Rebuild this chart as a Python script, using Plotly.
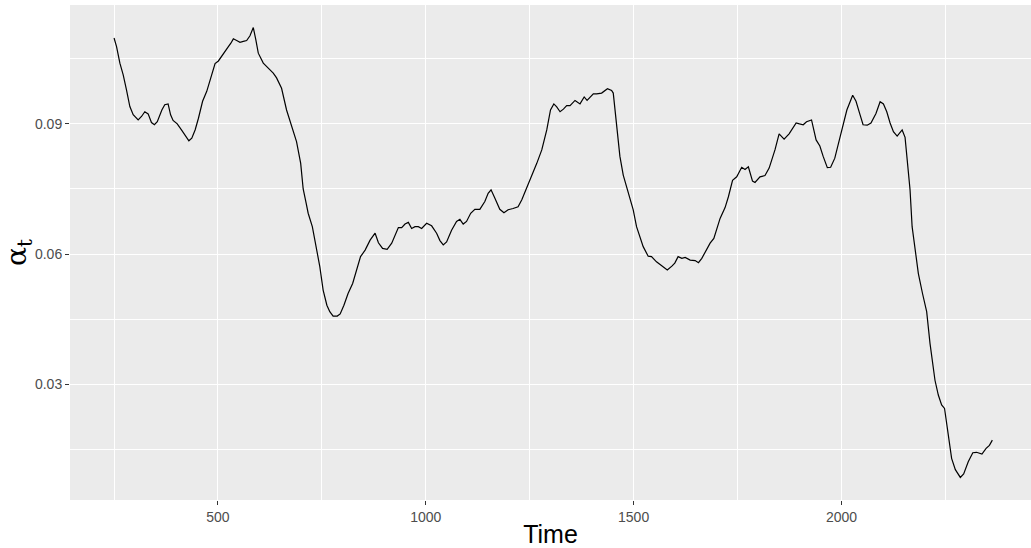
import plotly.graph_objects as go

time = [250, 256, 264, 272, 280, 288, 296, 308, 316, 324, 332, 340, 347, 354, 365, 372, 380, 386, 392, 402,
        413, 423, 430, 437, 445, 453, 463, 473, 483, 493, 501, 509, 517, 525, 531, 537, 545, 553, 561, 569,
        577, 585, 591, 597, 609, 621, 633, 641, 653, 665, 677, 689, 699, 705, 712, 717, 727, 736, 745, 753,
        762, 769, 777, 787, 794, 803, 813, 824, 834, 843, 854, 866, 878, 886, 896, 907, 918, 926, 934, 942,
        950, 958, 966, 974, 982, 990, 1002, 1014, 1026, 1034, 1042, 1050, 1062, 1074, 1082, 1090, 1098, 1108, 1118, 1130,
        1142, 1150, 1157, 1166, 1178, 1188, 1198, 1210, 1222, 1231, 1243, 1255, 1267, 1279, 1291, 1300, 1308, 1315, 1323, 1331,
        1339, 1347, 1359, 1371, 1381, 1388, 1403, 1411, 1423, 1437, 1447, 1451, 1459, 1467, 1475, 1483, 1491, 1499, 1507, 1523,
        1535, 1543, 1555, 1571, 1581, 1592, 1599, 1607, 1616, 1624, 1636, 1648, 1656, 1664, 1672, 1684, 1693, 1708, 1720, 1728,
        1738, 1748, 1760, 1768, 1776, 1786, 1792, 1804, 1816, 1826, 1836, 1840, 1850, 1862, 1874, 1891, 1899, 1908, 1916, 1928,
        1939, 1948, 1956, 1966, 1974, 1984, 1996, 2013, 2027, 2035, 2045, 2052, 2062, 2071, 2083, 2093, 2101, 2109, 2117, 2125,
        2134, 2141, 2146, 2153, 2158, 2165, 2170, 2176, 2185, 2195, 2205, 2213, 2225, 2233, 2241, 2248, 2257, 2265, 2274, 2286,
        2294, 2305, 2316, 2325, 2338, 2348, 2356, 2363]

alpha = [0.1098, 0.1078, 0.1040, 0.1013, 0.0978, 0.0940, 0.0921, 0.0909, 0.0917, 0.0928, 0.0923, 0.0903, 0.0898, 0.0905, 0.0932, 0.0944, 0.0946, 0.0921, 0.0908, 0.0900,
         0.0885, 0.0869, 0.0861, 0.0867, 0.0886, 0.0913, 0.0952, 0.0975, 0.1009, 0.1039, 0.1045, 0.1057, 0.1067, 0.1078, 0.1086, 0.1096, 0.1092, 0.1088, 0.1090, 0.1092,
         0.1103, 0.1122, 0.1094, 0.1063, 0.1040, 0.1029, 0.1017, 0.1006, 0.0982, 0.0932, 0.0898, 0.0859, 0.0809, 0.0750, 0.0718, 0.0694, 0.0663, 0.0617, 0.0571, 0.0517,
         0.0482, 0.0467, 0.0457, 0.0457, 0.0462, 0.0482, 0.0509, 0.0532, 0.0563, 0.0594, 0.0609, 0.0632, 0.0648, 0.0626, 0.0613, 0.0611, 0.0625, 0.0644, 0.0661, 0.0661,
         0.0669, 0.0673, 0.0659, 0.0663, 0.0663, 0.0659, 0.0671, 0.0665, 0.0648, 0.0631, 0.0621, 0.0628, 0.0655, 0.0675, 0.0680, 0.0669, 0.0675, 0.0694, 0.0703, 0.0703,
         0.0721, 0.0740, 0.0748, 0.0729, 0.0703, 0.0695, 0.0702, 0.0705, 0.0709, 0.0725, 0.0752, 0.0778, 0.0809, 0.0840, 0.0886, 0.0932, 0.0946, 0.0939, 0.0928, 0.0934,
         0.0942, 0.0942, 0.0954, 0.0946, 0.0962, 0.0954, 0.0969, 0.0969, 0.0971, 0.0981, 0.0977, 0.0971, 0.0902, 0.0825, 0.0782, 0.0755, 0.0732, 0.0702, 0.0663, 0.0617,
         0.0595, 0.0594, 0.0582, 0.0571, 0.0563, 0.0572, 0.0579, 0.0594, 0.0590, 0.0592, 0.0586, 0.0585, 0.0580, 0.0590, 0.0605, 0.0625, 0.0636, 0.0682, 0.0707, 0.0732,
         0.0770, 0.0778, 0.0800, 0.0795, 0.0801, 0.0768, 0.0765, 0.0778, 0.0781, 0.0798, 0.0828, 0.0840, 0.0877, 0.0865, 0.0877, 0.0902, 0.0900, 0.0898, 0.0905, 0.0909,
         0.0863, 0.0849, 0.0825, 0.0799, 0.0800, 0.0821, 0.0867, 0.0932, 0.0966, 0.0952, 0.0920, 0.0898, 0.0897, 0.0902, 0.0924, 0.0951, 0.0946, 0.0928, 0.0902, 0.0882,
         0.0872, 0.0879, 0.0886, 0.0869, 0.0825, 0.0748, 0.0663, 0.0621, 0.0555, 0.0509, 0.0467, 0.0394, 0.0309, 0.0275, 0.0252, 0.0244, 0.0182, 0.0129, 0.0103, 0.0085,
         0.0093, 0.0121, 0.0142, 0.0143, 0.0139, 0.0152, 0.0159, 0.0171]

x_ticks = [500, 1000, 1500, 2000]
x_minor = [250, 750, 1250, 1750, 2250]
y_ticks = [0.03, 0.06, 0.09]
y_tick_labels = ["0.03", "0.06", "0.09"]
y_minor = [0.015, 0.045, 0.075, 0.105]

fig = go.Figure(go.Scatter(x=time, y=alpha, mode="lines",
                           line=dict(color="black", width=1.2), showlegend=False))

axis_common = dict(
    showgrid=True, gridcolor="white", gridwidth=1.2,
    zeroline=False, showline=False,
    ticks="outside", ticklen=4, tickwidth=1, tickcolor="#333333",
    tickfont=dict(family="Liberation Sans, Arial, sans-serif", size=14, color="#4D4D4D"),
)

fig.update_xaxes(**axis_common, range=[144, 2456], tickvals=x_ticks,
                 ticktext=[str(v) for v in x_ticks],
                 minor=dict(tickvals=x_minor, showgrid=True, gridcolor="white", gridwidth=0.6, ticks=""),
                 title=dict(text="Time", font=dict(family="Liberation Sans, Arial, sans-serif", size=25, color="black"),
                            standoff=2))
fig.update_yaxes(**axis_common, range=[0.0033, 0.1174], tickvals=y_ticks, ticktext=y_tick_labels,
                 minor=dict(tickvals=y_minor, showgrid=True, gridcolor="white", gridwidth=0.6, ticks=""),
                 title=dict(text="α<sub>t</sub>", font=dict(family="DejaVu Serif, serif", size=28, color="black"),
                            standoff=4))

fig.update_layout(
    width=1031, height=548,
    margin=dict(l=70, r=0, t=5, b=48, autoexpand=False),
    plot_bgcolor="#EBEBEB", paper_bgcolor="white",
)

fig.write_html("out.html", config={"displayModeBar": False},
               post_script="document.body.style.margin='0';document.body.style.overflow='hidden';")
